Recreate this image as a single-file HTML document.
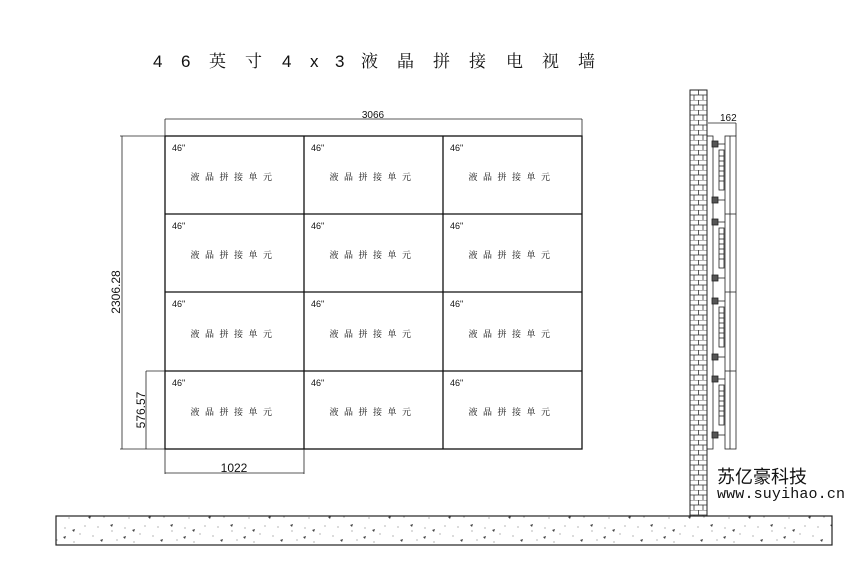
<!DOCTYPE html>
<html><head><meta charset="utf-8"><style>
html,body{margin:0;padding:0;background:#fff;}
svg{display:block;}
text{font-family:"Liberation Sans","Noto Sans CJK SC",sans-serif;fill:#111;}
.cj{font-family:"Noto Serif CJK SC","Noto Sans CJK SC",serif;}
.mono{font-family:"Liberation Mono",monospace;}
.cjs{font-family:"Noto Sans CJK SC",sans-serif;}
</style></head><body>
<svg width="860" height="574" viewBox="0 0 860 574" xmlns="http://www.w3.org/2000/svg">
<defs>
<pattern id="brick" x="690" y="90" width="17" height="10" patternUnits="userSpaceOnUse">
<rect width="17" height="10" fill="#fff"/>
<line x1="0" y1="0" x2="17" y2="0" stroke="#333" stroke-width="0.8"/>
<line x1="0" y1="5" x2="17" y2="5" stroke="#333" stroke-width="0.8"/>
<line x1="8.5" y1="0" x2="8.5" y2="5" stroke="#333" stroke-width="0.8"/>
<line x1="4" y1="5" x2="4" y2="10" stroke="#333" stroke-width="0.8"/>
<line x1="13" y1="5" x2="13" y2="10" stroke="#333" stroke-width="0.8"/>
</pattern>
<pattern id="conc" x="0" y="0" width="60" height="29" patternUnits="userSpaceOnUse">
<rect width="60" height="29" fill="#fff"/>
<g fill="#444">
<circle cx="5" cy="6" r="0.5"/><circle cx="14" cy="20" r="0.5"/><circle cx="25" cy="4" r="0.5"/><circle cx="33" cy="14" r="0.5"/><circle cx="44" cy="24" r="0.5"/><circle cx="52" cy="9" r="0.5"/><circle cx="9" cy="25" r="0.5"/><circle cx="38" cy="5" r="0.5"/><circle cx="20" cy="12" r="0.5"/><circle cx="57" cy="18" r="0.5"/>
<path d="M12 8 l3 -1 l-1 3z"/><path d="M40 18 l3 -1 l-1 3z"/><path d="M28 24 l3 -1 l-1 3z"/><path d="M50 3 l3 -1 l-1 3z"/><path d="M3 15 l3 -1 l-1 3z"/>
</g>
</pattern>
</defs>

<g font-size="17">
<text x="153" y="67">4</text><text x="181" y="67">6</text>
<text x="209" y="67" class="cj">英</text><text x="245" y="67" class="cj">寸</text>
<text x="282" y="67">4</text><text x="310" y="67">x</text><text x="335" y="67">3</text>
<text x="361" y="67" class="cj">液</text><text x="397" y="67" class="cj">晶</text><text x="433" y="67" class="cj">拼</text><text x="469" y="67" class="cj">接</text><text x="506" y="67" class="cj">电</text><text x="542" y="67" class="cj">视</text><text x="578" y="67" class="cj">墙</text>
</g>

<g stroke="#111" stroke-width="1.3" fill="none">
<rect x="165" y="136" width="417" height="313"/>
<line x1="304" y1="136" x2="304" y2="449"/><line x1="443" y1="136" x2="443" y2="449"/>
<line x1="165" y1="214" x2="582" y2="214"/><line x1="165" y1="292" x2="582" y2="292"/><line x1="165" y1="371" x2="582" y2="371"/>
</g>
<g font-size="9">
<text x="172" y="151">46"</text><text x="311" y="151">46"</text><text x="450" y="151">46"</text>
<text x="172" y="229">46"</text><text x="311" y="229">46"</text><text x="450" y="229">46"</text>
<text x="172" y="307">46"</text><text x="311" y="307">46"</text><text x="450" y="307">46"</text>
<text x="172" y="386">46"</text><text x="311" y="386">46"</text><text x="450" y="386">46"</text>
</g>
<g font-size="9" letter-spacing="5.5" text-anchor="middle">
<text x="234" y="180" class="cj">液晶拼接单元</text><text x="373" y="180" class="cj">液晶拼接单元</text><text x="512" y="180" class="cj">液晶拼接单元</text>
<text x="234" y="258" class="cj">液晶拼接单元</text><text x="373" y="258" class="cj">液晶拼接单元</text><text x="512" y="258" class="cj">液晶拼接单元</text>
<text x="234" y="337" class="cj">液晶拼接单元</text><text x="373" y="337" class="cj">液晶拼接单元</text><text x="512" y="337" class="cj">液晶拼接单元</text>
<text x="234" y="415" class="cj">液晶拼接单元</text><text x="373" y="415" class="cj">液晶拼接单元</text><text x="512" y="415" class="cj">液晶拼接单元</text>
</g>

<g stroke="#222" stroke-width="0.8" fill="none">
<line x1="165" y1="119" x2="582" y2="119"/><line x1="165" y1="119" x2="165" y2="136"/><line x1="582" y1="119" x2="582" y2="136"/>
<line x1="122" y1="136" x2="122" y2="449"/><line x1="120" y1="136" x2="165" y2="136"/><line x1="120" y1="449" x2="165" y2="449"/>
<line x1="146" y1="371" x2="146" y2="449"/><line x1="146" y1="371" x2="165" y2="371"/>
<line x1="165" y1="449" x2="165" y2="474"/><line x1="304" y1="449" x2="304" y2="474"/><line x1="165" y1="473" x2="304" y2="473"/>
</g>
<text x="373" y="118" font-size="10" text-anchor="middle">3066</text>
<text x="234" y="472" font-size="12" text-anchor="middle">1022</text>
<text transform="translate(120,292) rotate(-90)" font-size="12" text-anchor="middle">2306.28</text>
<text transform="translate(145,410) rotate(-90)" font-size="12" text-anchor="middle">576.57</text>

<rect x="690" y="90" width="17" height="426" fill="url(#brick)" stroke="#222" stroke-width="1"/>

<g stroke="#222" stroke-width="0.8" fill="none">
<line x1="708" y1="123" x2="736" y2="123"/><line x1="736" y1="123" x2="736" y2="136"/>
<rect x="707" y="136" width="6" height="313"/>
<rect x="725" y="136" width="11" height="313"/>
<line x1="730" y1="136" x2="730" y2="449"/>
<line x1="725" y1="214" x2="736" y2="214"/><line x1="725" y1="292" x2="736" y2="292"/><line x1="725" y1="371" x2="736" y2="371"/>
</g>
<text x="720" y="121" font-size="10">162</text>
<g stroke="#222" stroke-width="0.8" fill="none">
<g id="m">
<rect x="712" y="141" width="6" height="6" fill="#555"/>
<line x1="718" y1="144" x2="725" y2="144"/>
<rect x="719" y="150" width="5" height="40"/>
<line x1="719" y1="156" x2="724" y2="156"/><line x1="719" y1="161" x2="724" y2="161"/><line x1="719" y1="166" x2="724" y2="166"/><line x1="719" y1="171" x2="724" y2="171"/><line x1="719" y1="176" x2="724" y2="176"/><line x1="719" y1="181" x2="724" y2="181"/>
<rect x="712" y="197" width="6" height="6" fill="#555"/>
<line x1="718" y1="200" x2="725" y2="200"/>
</g>
<use href="#m" y="78"/><use href="#m" y="157"/><use href="#m" y="235"/>
</g>

<text x="717" y="483" font-size="18" class="cjs">苏亿豪科技</text>
<text x="717" y="498" font-size="15" class="mono" textLength="128">www.suyihao.cn</text>

<rect x="56" y="516" width="776" height="29" fill="url(#conc)" stroke="#222" stroke-width="1.2"/>
</svg>
</body></html>
